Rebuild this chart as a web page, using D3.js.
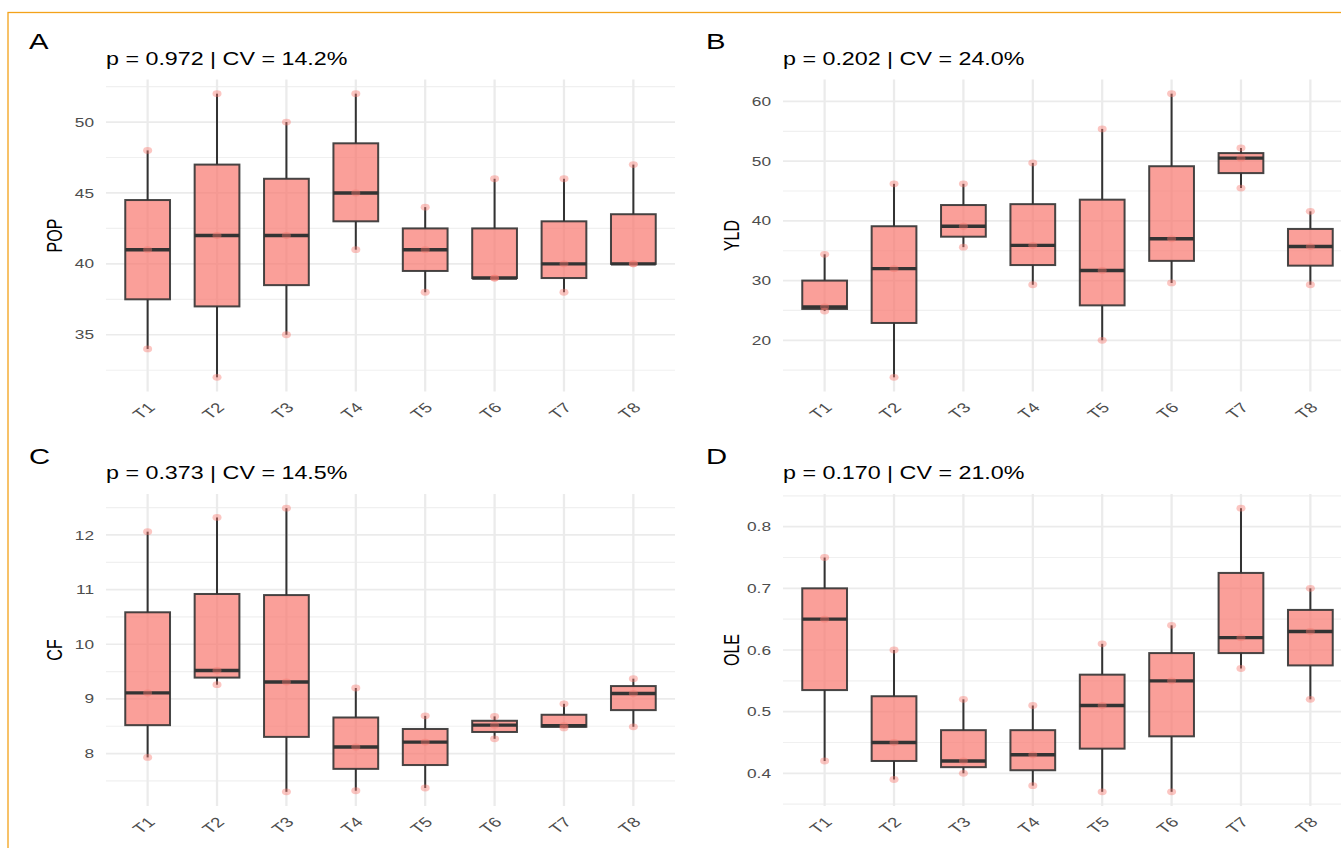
<!DOCTYPE html>
<html><head><meta charset="utf-8">
<script src="https://cdn.jsdelivr.net/npm/d3@7"></script>
<style>
body{margin:0;background:#fff;}
svg{display:block;font-family:"Liberation Sans",Arial,Helvetica,sans-serif;}
</style>
</head><body>
<svg id="chart" width="1341" height="848"></svg>
<script>
// ---------- data ----------
const categories = ["T1","T2","T3","T4","T5","T6","T7","T8"];
// three replicates per treatment
const popValues = [[34,41,48],[32,42,52],[35,42,50],[41,45,52],[38,41,44],[39,39,46],[38,40,46],[40,40,47]];
const yldValues = [[24.9,25.6,34.4],[13.8,32.0,46.2],[35.6,39.1,46.2],[29.3,35.9,49.7],[20.0,31.7,55.4],[29.6,37.0,61.3],[45.5,50.5,52.2],[29.3,35.7,41.6]];
const cfValues  = [[7.93,9.11,12.06],[9.26,9.52,12.32],[7.30,9.31,12.49],[7.32,8.12,9.20],[7.37,8.21,8.69],[8.27,8.52,8.68],[8.47,8.51,8.91],[8.49,9.10,9.37]];
const oleValues = [[0.42,0.65,0.75],[0.39,0.45,0.60],[0.40,0.42,0.52],[0.38,0.43,0.51],[0.37,0.51,0.61],[0.37,0.55,0.64],[0.57,0.62,0.83],[0.52,0.63,0.70]];

const popTicks = [35,40,45,50];
const yldTicks = [20,30,40,50,60];
const cfTicks  = [8,9,10,11,12];
const oleTicks = [0.4,0.5,0.6,0.7,0.8];
const popTickLabels = ["35","40","45","50"];
const yldTickLabels = ["20","30","40","50","60"];
const cfTickLabels  = ["8","9","10","11","12"];
const oleTickLabels = ["0.4","0.5","0.6","0.7","0.8"];

const panelTags   = ["A","B","C","D"];
const panelTitles = ["p = 0.972 | CV = 14.2%","p = 0.202 | CV = 24.0%","p = 0.373 | CV = 14.5%","p = 0.170 | CV = 21.0%"];
const yTitles     = ["POP","YLD","CF","OLE"];

// ---------- layout ----------
const sx = 1.33;             // horizontal stretch of the original figure
const colX = [[106,675],[783,1352]];
const rowY = [[79.5,391.5],[494,806]];
const fillColor = "#F8766D";
const dark = "#333333";

const svg = d3.select("#chart");

// orange frame
svg.append("rect").attr("x",8).attr("y",12.5).attr("width",1400).attr("height",900)
  .attr("fill","none").attr("stroke","#F3A21A").attr("stroke-width",1.3);

const panels = [
  {values:popValues, ticks:popTicks, labels:popTickLabels, col:0, row:0},
  {values:yldValues, ticks:yldTicks, labels:yldTickLabels, col:1, row:0},
  {values:cfValues,  ticks:cfTicks,  labels:cfTickLabels,  col:0, row:1},
  {values:oleValues, ticks:oleTicks, labels:oleTickLabels, col:1, row:1}
];

panels.forEach((p,i)=>{
  const [x0,x1] = colX[p.col];
  const [y0,y1] = rowY[p.row];
  const g = svg.append("g");

  const all = p.values.flat();
  const lo = d3.min(all), hi = d3.max(all), pad = (hi-lo)*0.05;
  const y = d3.scaleLinear().domain([lo-pad, hi+pad]).range([y1,y0]);
  const x = d3.scalePoint().domain(categories).range([x0,x1]).padding(0.6);
  const step = x.step();
  const bw = step*0.645;

  // minor gridlines (midpoints between major ticks)
  const tstep = p.ticks[1]-p.ticks[0];
  const minor = d3.range(-1, p.ticks.length).map(k => p.ticks[0] + (k+0.5)*tstep)
      .filter(v => v >= y.domain()[0] && v <= y.domain()[1]);
  g.selectAll(".minor").data(minor).join("line")
    .attr("x1",x0).attr("x2",x1).attr("y1",d=>y(d)).attr("y2",d=>y(d))
    .attr("stroke","#F0F0F0").attr("stroke-width",1.2);
  g.selectAll(".major").data(p.ticks).join("line")
    .attr("x1",x0).attr("x2",x1).attr("y1",d=>y(d)).attr("y2",d=>y(d))
    .attr("stroke","#EBEBEB").attr("stroke-width",1.7);
  g.selectAll(".vgrid").data(categories).join("line")
    .attr("x1",d=>x(d)).attr("x2",d=>x(d)).attr("y1",y0).attr("y2",y1)
    .attr("stroke","#EBEBEB").attr("stroke-width",1.7*sx);

  // box statistics
  const stats = p.values.map((v,j)=>{
    const s = v.slice().sort(d3.ascending);
    return {cat:categories[j], min:s[0], q1:d3.quantile(s,0.25), med:d3.quantile(s,0.5), q3:d3.quantile(s,0.75), max:s[s.length-1], pts:s};
  });

  // whiskers
  g.selectAll(".wu").data(stats).join("line")
    .attr("x1",d=>x(d.cat)).attr("x2",d=>x(d.cat)).attr("y1",d=>y(d.max)).attr("y2",d=>y(d.q3))
    .attr("stroke",dark).attr("stroke-width",1.5*sx);
  g.selectAll(".wl").data(stats).join("line")
    .attr("x1",d=>x(d.cat)).attr("x2",d=>x(d.cat)).attr("y1",d=>y(d.q1)).attr("y2",d=>y(d.min))
    .attr("stroke",dark).attr("stroke-width",1.5*sx);
  // boxes
  g.selectAll(".box").data(stats).join("rect")
    .attr("x",d=>x(d.cat)-bw/2).attr("width",bw)
    .attr("y",d=>y(d.q3)).attr("height",d=>y(d.q1)-y(d.q3))
    .attr("fill",fillColor).attr("fill-opacity",0.7)
    .attr("stroke",dark).attr("stroke-opacity",0.9).attr("stroke-width",2);
  // medians
  g.selectAll(".med").data(stats).join("line")
    .attr("x1",d=>x(d.cat)-bw/2).attr("x2",d=>x(d.cat)+bw/2)
    .attr("y1",d=>y(d.med)).attr("y2",d=>y(d.med))
    .attr("stroke",dark).attr("stroke-width",3.4);
  // points
  const pts = stats.flatMap(d=>d.pts.map(v=>({cat:d.cat, v})));
  g.selectAll(".pt").data(pts).join("ellipse")
    .attr("cx",d=>x(d.cat)).attr("cy",d=>y(d.v))
    .attr("rx",3.4*sx).attr("ry",3.4)
    .attr("fill",fillColor).attr("fill-opacity",0.42);

  // y tick labels
  g.selectAll(".yt").data(p.ticks).join("text")
    .attr("transform",d=>`translate(${x0-12},${y(d)}) scale(${sx},1)`)
    .attr("text-anchor","end").attr("dy","0.35em")
    .attr("font-size",13).attr("fill","#4D4D4D")
    .text((d,k)=>p.labels[k]);
  // x tick labels
  g.selectAll(".xt").data(categories).join("text")
    .attr("transform",d=>`translate(${x(d)-1},${y1+10}) scale(${sx},1) rotate(-45)`)
    .attr("text-anchor","end").attr("dy","0.71em")
    .attr("font-size",14).attr("fill","#4D4D4D")
    .text(d=>d);
  // y title
  g.append("text")
    .attr("transform",`translate(${x0-51},${(y0+y1)/2}) scale(${sx},1) rotate(-90)`)
    .attr("text-anchor","middle").attr("dy","0.35em")
    .attr("font-size",16).attr("fill","#000").text(yTitles[i]);
  // title
  g.append("text")
    .attr("transform",`translate(${x0},${y0-15}) scale(${sx},1)`)
    .attr("font-size",17.5).attr("fill","#000").text(panelTitles[i]);
  // tag
  g.append("text")
    .attr("transform",`translate(${x0-77},${y0-30.5}) scale(${sx},1)`)
    .attr("font-size",22).attr("fill","#000").text(panelTags[i]);
});
</script>
</body></html>
